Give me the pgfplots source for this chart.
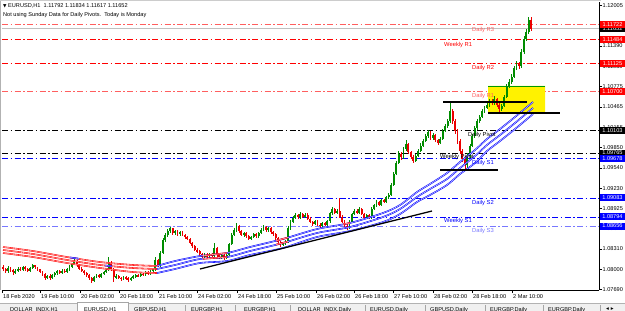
\documentclass[border=0pt]{standalone}
\usepackage{fontspec}
\setmainfont{Liberation Sans}
\newfontfamily\dejavu{DejaVu Sans}
\usepackage{pgfplots}
\usepackage{pgfplotstable}
\pgfplotsset{compat=1.18}

\definecolor{mtred}{RGB}{255,0,0}
\definecolor{mtpink}{RGB}{255,95,95}
\definecolor{mtblue}{RGB}{0,0,255}
\definecolor{mtlblue}{RGB}{120,120,255}
\definecolor{bull}{RGB}{0,140,0}
\definecolor{bear}{RGB}{235,0,0}
\definecolor{tabgrey}{RGB}{240,240,240}
\definecolor{bidgrey}{RGB}{192,192,192}

\newcommand{\fs}{\fontsize{5.6bp}{6.5bp}\selectfont}
\newcommand{\fl}{\fontsize{5.8bp}{7bp}\selectfont}

\pgfplotstableread{
o h l c
1.0803 1.0806 1.0797 1.0800
1.0800 1.0802 1.0794 1.0797
1.0797 1.0805 1.0795 1.0802
1.0802 1.0804 1.0796 1.0799
1.0799 1.0801 1.0792 1.0795
1.0795 1.0800 1.0793 1.0798
1.0798 1.0803 1.0796 1.0801
1.0801 1.0803 1.0797 1.0799
1.0799 1.0805 1.0797 1.0803
1.0803 1.0805 1.0798 1.0800
1.0800 1.0802 1.0795 1.0798
1.0798 1.0804 1.0796 1.0802
1.0802 1.0808 1.0800 1.0806
1.0806 1.0807 1.0801 1.0803
1.0803 1.0804 1.0798 1.0800
1.0800 1.0801 1.0794 1.0796
1.0796 1.0798 1.0790 1.0792
1.0792 1.0794 1.0784 1.0787
1.0787 1.0792 1.0785 1.0790
1.0790 1.0792 1.0784 1.0786
1.0786 1.0793 1.0785 1.0791
1.0791 1.0796 1.0789 1.0794
1.0794 1.0799 1.0792 1.0797
1.0797 1.0799 1.0793 1.0795
1.0795 1.0800 1.0793 1.0798
1.0798 1.0800 1.0794 1.0796
1.0796 1.0802 1.0794 1.0800
1.0800 1.0806 1.0798 1.0804
1.0804 1.0810 1.0802 1.0808
1.0808 1.0815 1.0806 1.0812
1.0812 1.0814 1.0804 1.0806
1.0806 1.0808 1.0799 1.0801
1.0801 1.0803 1.0795 1.0797
1.0797 1.0799 1.0791 1.0794
1.0794 1.0796 1.0789 1.0791
1.0791 1.0793 1.0784 1.0786
1.0786 1.0788 1.0779 1.0782
1.0782 1.0790 1.0780 1.0788
1.0788 1.0793 1.0786 1.0791
1.0791 1.0793 1.0787 1.0789
1.0789 1.0795 1.0787 1.0793
1.0793 1.0798 1.0791 1.0796
1.0796 1.0801 1.0794 1.0799
1.0799 1.0818 1.0797 1.0810
1.0810 1.0812 1.0797 1.0800
1.0800 1.0802 1.0781 1.0788
1.0788 1.0793 1.0785 1.0790
1.0790 1.0792 1.0785 1.0787
1.0787 1.0789 1.0782 1.0785
1.0785 1.0790 1.0783 1.0788
1.0788 1.0790 1.0784 1.0786
1.0786 1.0788 1.0780 1.0784
1.0784 1.0789 1.0782 1.0787
1.0787 1.0791 1.0785 1.0789
1.0789 1.0793 1.0787 1.0791
1.0791 1.0793 1.0788 1.0790
1.0790 1.0795 1.0788 1.0793
1.0793 1.0795 1.0790 1.0792
1.0792 1.0797 1.0790 1.0795
1.0795 1.0797 1.0792 1.0794
1.0794 1.0799 1.0792 1.0797
1.0797 1.0802 1.0795 1.0800
1.0800 1.0818 1.0798 1.0814
1.0814 1.0816 1.0803 1.0806
1.0806 1.0828 1.0804 1.0825
1.0825 1.0848 1.0823 1.0845
1.0845 1.0855 1.0842 1.0852
1.0852 1.0861 1.0849 1.0858
1.0858 1.0864 1.0855 1.0862
1.0862 1.0863 1.0852 1.0855
1.0855 1.0860 1.0852 1.0858
1.0858 1.0860 1.0851 1.0853
1.0853 1.0858 1.0851 1.0856
1.0856 1.0858 1.0850 1.0852
1.0852 1.0854 1.0846 1.0849
1.0849 1.0851 1.0844 1.0846
1.0846 1.0848 1.0838 1.0840
1.0840 1.0842 1.0832 1.0835
1.0835 1.0837 1.0828 1.0830
1.0830 1.0833 1.0825 1.0827
1.0827 1.0829 1.0820 1.0823
1.0823 1.0825 1.0815 1.0818
1.0818 1.0824 1.0816 1.0822
1.0822 1.0824 1.0817 1.0819
1.0819 1.0825 1.0817 1.0823
1.0823 1.0825 1.0818 1.0820
1.0820 1.0840 1.0818 1.0832
1.0832 1.0834 1.0819 1.0822
1.0822 1.0824 1.0815 1.0818
1.0818 1.0823 1.0816 1.0821
1.0821 1.0823 1.0814 1.0817
1.0817 1.0824 1.0815 1.0822
1.0822 1.0840 1.0820 1.0838
1.0838 1.0855 1.0836 1.0852
1.0852 1.0863 1.0850 1.0860
1.0860 1.0870 1.0857 1.0865
1.0865 1.0867 1.0855 1.0858
1.0858 1.0860 1.0850 1.0852
1.0852 1.0857 1.0849 1.0855
1.0855 1.0857 1.0848 1.0850
1.0850 1.0852 1.0844 1.0846
1.0846 1.0851 1.0844 1.0849
1.0849 1.0855 1.0847 1.0853
1.0853 1.0855 1.0848 1.0850
1.0850 1.0857 1.0848 1.0855
1.0855 1.0862 1.0853 1.0860
1.0860 1.0867 1.0858 1.0864
1.0864 1.0866 1.0857 1.0859
1.0859 1.0864 1.0857 1.0862
1.0862 1.0864 1.0854 1.0856
1.0856 1.0858 1.0851 1.0853
1.0853 1.0855 1.0845 1.0847
1.0847 1.0849 1.0839 1.0841
1.0841 1.0843 1.0834 1.0838
1.0838 1.0842 1.0835 1.0840
1.0840 1.0845 1.0837 1.0842
1.0842 1.0865 1.0840 1.0862
1.0862 1.0875 1.0860 1.0872
1.0872 1.0881 1.0870 1.0878
1.0878 1.0885 1.0876 1.0882
1.0882 1.0884 1.0876 1.0879
1.0879 1.0887 1.0877 1.0884
1.0884 1.0886 1.0878 1.0880
1.0880 1.0885 1.0878 1.0883
1.0883 1.0885 1.0875 1.0877
1.0877 1.0879 1.0870 1.0872
1.0872 1.0874 1.0866 1.0869
1.0869 1.0875 1.0867 1.0873
1.0873 1.0875 1.0866 1.0868
1.0868 1.0870 1.0863 1.0866
1.0866 1.0872 1.0864 1.0870
1.0870 1.0872 1.0865 1.0867
1.0867 1.0875 1.0865 1.0873
1.0873 1.0887 1.0871 1.0885
1.0885 1.0894 1.0883 1.0892
1.0892 1.0893 1.0884 1.0886
1.0886 1.0892 1.0884 1.0889
1.0889 1.0908 1.0878 1.0880
1.0880 1.0882 1.0870 1.0872
1.0872 1.0874 1.0864 1.0866
1.0866 1.0868 1.0860 1.0863
1.0863 1.0874 1.0861 1.0872
1.0872 1.0886 1.0870 1.0884
1.0884 1.0891 1.0882 1.0889
1.0889 1.0891 1.0884 1.0886
1.0886 1.0894 1.0884 1.0891
1.0891 1.0893 1.0882 1.0884
1.0884 1.0886 1.0876 1.0878
1.0878 1.0884 1.0876 1.0882
1.0882 1.0884 1.0877 1.0879
1.0879 1.0894 1.0877 1.0892
1.0892 1.0899 1.0890 1.0897
1.0897 1.0905 1.0895 1.0902
1.0902 1.0904 1.0896 1.0898
1.0898 1.0907 1.0896 1.0905
1.0905 1.0907 1.0900 1.0902
1.0902 1.0911 1.0900 1.0909
1.0909 1.0916 1.0907 1.0913
1.0913 1.0931 1.0911 1.0928
1.0928 1.0948 1.0926 1.0945
1.0945 1.0965 1.0943 1.0962
1.0962 1.0979 1.0960 1.0975
1.0975 1.0978 1.0966 1.0970
1.0970 1.0985 1.0968 1.0982
1.0982 1.0996 1.0979 1.0990
1.0990 1.0992 1.0975 1.0978
1.0978 1.0980 1.0967 1.0970
1.0970 1.0973 1.0962 1.0965
1.0965 1.0975 1.0963 1.0972
1.0972 1.0983 1.0970 1.0980
1.0980 1.0991 1.0978 1.0988
1.0988 1.0998 1.0986 1.0995
1.0995 1.1006 1.0993 1.1003
1.1003 1.1012 1.1000 1.1008
1.1008 1.1010 1.0997 1.1000
1.1000 1.1007 1.0997 1.1004
1.1004 1.1006 1.0993 1.0996
1.0996 1.0998 1.0989 1.0992
1.0992 1.1001 1.0990 1.0998
1.0998 1.1013 1.0996 1.1010
1.1010 1.1021 1.1008 1.1018
1.1018 1.1029 1.1015 1.1025
1.1025 1.1054 1.1022 1.1040
1.1040 1.1044 1.1020 1.1025
1.1025 1.1028 1.1006 1.1010
1.1010 1.1013 1.0990 1.0995
1.0995 1.0998 1.0975 1.0980
1.0980 1.0983 1.0963 1.0968
1.0968 1.0972 1.0951 1.0958
1.0958 1.0976 1.0954 1.0972
1.0972 1.0991 1.0969 1.0988
1.0988 1.1006 1.0985 1.1002
1.1002 1.1018 1.0999 1.1015
1.1015 1.1028 1.1012 1.1025
1.1025 1.1035 1.1022 1.1032
1.1032 1.1043 1.1030 1.1040
1.1040 1.1048 1.1037 1.1045
1.1045 1.1056 1.1043 1.1050
1.1050 1.1059 1.1047 1.1055
1.1055 1.1058 1.1049 1.1052
1.1052 1.1063 1.1050 1.1058
1.1058 1.1060 1.1047 1.1050
1.1050 1.1052 1.1039 1.1044
1.1044 1.1051 1.1041 1.1048
1.1048 1.1065 1.1046 1.1062
1.1062 1.1081 1.1060 1.1078
1.1078 1.1089 1.1075 1.1085
1.1085 1.1096 1.1082 1.1092
1.1092 1.1109 1.1090 1.1105
1.1105 1.1117 1.1102 1.1112
1.1112 1.1115 1.1104 1.1108
1.1108 1.1134 1.1106 1.1130
1.1130 1.1155 1.1127 1.1150
1.1150 1.1165 1.1146 1.1160
1.1160 1.1183 1.1157 1.1179
1.11792 1.11834 1.11617 1.11652
}\candles

\tikzset{
  band/.style={#1, double=white, double distance=0.35bp, line width=0.6bp},
  pbox/.style={anchor=west, fill=#1, text=white, font=\fs, inner sep=0pt,
    minimum width=24.5bp, minimum height=7bp},
  piv/.style={#1, line width=0.8bp, dash pattern=on 6bp off 2.5bp on 1.5bp off 2.5bp},
}

\begin{document}
\begin{tikzpicture}
\path[use as bounding box] (0,0) rectangle (625bp,311bp);
\fill[white] (0,0) rectangle (625bp,311bp);

% ---- tab bar ----
\fill[tabgrey] (0,0) rectangle (625bp,7.5bp);
\draw[gray!60, line width=0.5bp] (0,7.5bp) -- (625bp,7.5bp);
\fill[white] (77bp,0) rectangle (128bp,8.5bp);
\draw[gray!70, line width=0.5bp] (77bp,0) -- (77bp,8.5bp) -- (128bp,8.5bp) -- (128bp,0);
\foreach \s in {185,235,290,365,425,485,543,600}{
  \draw[gray!70, line width=0.5bp] (\s bp,0) -- (\s bp,6bp);}
\foreach \xx/\tt in {10/{DOLLAR\_INDX,H1},84/{EURUSD,H1},134/{GBPUSD,H1},191/{EURGBP,H1},244/{EURGBP,H1},
  298/{DOLLAR\_INDX,Daily},370/{EURUSD,Daily},430/{GBPUSD,Daily},490/{EURGBP,Daily},548/{EURGBP,Daily}}{
  \node[anchor=north west, inner sep=0pt, font=\fs] at (\xx bp,3.4bp) {\tt};}
\node[anchor=north west, inner sep=0pt, font=\fs] at (606bp,3.4bp) {{\dejavu ◂ ▸}};

\begin{axis}[
  at={(2bp,21bp)}, anchor=south west,
  scale only axis, width=597bp, height=288bp,
  xmin=2, xmax=599, ymin=1.07684, ymax=1.12059,
  axis x line*=bottom, axis y line*=right,
  axis line style={black, line width=0.6bp},
  tick align=outside, major tick length=3bp,
  tick style={black, line width=0.5bp},
  /pgf/number format/assume math mode=true,
  xtick={2,40,80,119,158,197,237,276,316,354,393,433,472,512},
  xticklabels={18 Feb 2020,19 Feb 10:00,20 Feb 02:00,20 Feb 18:00,21 Feb 10:00,24 Feb 02:00,24 Feb 18:00,25 Feb 10:00,26 Feb 02:00,26 Feb 18:00,27 Feb 10:00,28 Feb 02:00,28 Feb 18:00,2 Mar 10:00},
  xticklabel style={font=\fs, anchor=west, inner sep=0.5bp, yshift=-3.5bp, xshift=0.5bp},
  ytick={1.07690,1.08000,1.08310,1.08620,1.08925,1.09230,1.09540,1.09850,1.10155,1.10465,1.10775,1.11080,1.11390,1.11695,1.12005},
  yticklabels={1.07690,1.08000,1.08310,1.08620,1.08925,1.09230,1.09540,1.09850,1.10155,1.10465,1.10775,1.11080,1.11390,1.11695,1.12005},
  yticklabel style={font=\fs, anchor=west, inner sep=0.5bp},
]
% pivot lines
\addplot[bidgrey, line width=0.6bp] coordinates {(2,1.11652) (599,1.11652)};
\addplot[piv=mtpink] coordinates {(2,1.11722) (599,1.11722)};
\addplot[piv=mtred] coordinates {(2,1.11484) (599,1.11484)};
\addplot[piv=mtred] coordinates {(2,1.11125) (599,1.11125)};
\addplot[piv=mtpink] coordinates {(2,1.10700) (599,1.10700)};
\addplot[piv=black] coordinates {(2,1.10103) (599,1.10103)};
\addplot[piv=black] coordinates {(2,1.09765) (599,1.09765)};
\addplot[piv=mtblue] coordinates {(2,1.09678) (599,1.09678)};
\addplot[piv=mtblue] coordinates {(2,1.09083) (599,1.09083)};
\addplot[piv=mtblue] coordinates {(2,1.08794) (599,1.08794)};
\addplot[piv=mtlblue] coordinates {(2,1.08656) (599,1.08656)};

% yellow rectangle
\addplot[fill=yellow, draw=none] coordinates {(488,1.10373) (545,1.10373) (545,1.10783) (488,1.10783) (488,1.10373)};
\addplot[green!60!black, line width=0.6bp] coordinates {(488,1.10783) (545,1.10783)};

% candles: wicks
\addplot[draw=none, mark=none, forget plot,
  restrict expr to domain={\thisrow{c}-\thisrow{o}}{0:1},
  error bars/.cd, y dir=both, y explicit, error mark=none,
  error bar style={draw=bull, line width=0.6bp}]
  table[x expr={3.16+2.456*\coordindex}, y expr={(\thisrow{h}+\thisrow{l})/2}, y error expr={(\thisrow{h}-\thisrow{l})/2}] {\candles};
\addplot[draw=none, mark=none, forget plot,
  restrict expr to domain={\thisrow{c}-\thisrow{o}}{-1:-0.00001},
  error bars/.cd, y dir=both, y explicit, error mark=none,
  error bar style={draw=bear, line width=0.6bp}]
  table[x expr={3.16+2.456*\coordindex}, y expr={(\thisrow{h}+\thisrow{l})/2}, y error expr={(\thisrow{h}-\thisrow{l})/2}] {\candles};
% candles: bodies
\addplot[draw=none, mark=none, forget plot,
  restrict expr to domain={\thisrow{c}-\thisrow{o}}{0:1},
  error bars/.cd, y dir=both, y explicit, error mark=none,
  error bar style={draw=bull, line width=1.9bp}]
  table[x expr={3.16+2.456*\coordindex}, y expr={(\thisrow{o}+\thisrow{c})/2}, y error expr={(\thisrow{c}-\thisrow{o})/2}] {\candles};
\addplot[draw=none, mark=none, forget plot,
  restrict expr to domain={\thisrow{c}-\thisrow{o}}{-1:-0.00001},
  error bars/.cd, y dir=both, y explicit, error mark=none,
  error bar style={draw=bear, line width=1.9bp}]
  table[x expr={3.16+2.456*\coordindex}, y expr={(\thisrow{o}+\thisrow{c})/2}, y error expr={(\thisrow{o}-\thisrow{c})/2}] {\candles};

% MA band (red part)
\addplot[band=mtred, smooth] coordinates {(3,1.08337) (33,1.08276) (67,1.08185) (100,1.08109) (133,1.08064) (157,1.08049)};
\addplot[band=mtred, smooth] coordinates {(3,1.08292) (33,1.08231) (67,1.08140) (100,1.08064) (133,1.08018) (157,1.08003)};
\addplot[band=mtred, smooth] coordinates {(3,1.08246) (33,1.08185) (67,1.08094) (100,1.08018) (133,1.07957) (157,1.07942)};
% MA band (blue part)
\addplot[band=mtblue, smooth] coordinates {(157,1.08049) (175,1.08124) (200,1.08200) (227,1.08246) (250,1.08337) (283,1.08459) (317,1.08610) (350,1.08702) (383,1.08854) (400,1.08975) (417,1.09172) (430,1.09294) (447,1.09461) (460,1.09628) (475,1.09811) (487,1.09978) (500,1.10129) (515,1.10312) (533,1.10540)};
\addplot[band=mtblue, smooth] coordinates {(157,1.08003) (175,1.08064) (200,1.08155) (227,1.08185) (250,1.08276) (283,1.08398) (317,1.08550) (350,1.08641) (383,1.08793) (400,1.08914) (417,1.09097) (430,1.09218) (447,1.09370) (460,1.09537) (475,1.09719) (487,1.09887) (500,1.10038) (515,1.10221) (533,1.10449)};
\addplot[band=mtblue, smooth] coordinates {(157,1.07942) (175,1.08003) (200,1.08094) (227,1.08124) (250,1.08216) (283,1.08322) (317,1.08489) (350,1.08580) (383,1.08717) (400,1.08838) (417,1.09021) (430,1.09127) (447,1.09279) (460,1.09446) (475,1.09613) (487,1.09795) (500,1.09947) (515,1.10129) (533,1.10357)};
% red pieces where price dipped into the band
\addplot[band=mtred] coordinates {(203,1.08205) (227,1.08246)};
\addplot[band=mtred] coordinates {(203,1.08158) (227,1.08185)};
\addplot[band=mtred] coordinates {(276,1.08433) (288,1.08481)};
\addplot[band=mtred] coordinates {(276,1.08373) (288,1.08420)};
\addplot[band=mtred] coordinates {(343,1.08683) (350,1.08702)};
% blue pieces where price poked above the red band
\addplot[band=mtblue] coordinates {(70,1.08178) (79,1.08160)};
\addplot[band=mtblue] coordinates {(105,1.08056) (112,1.08045)};

% trend lines
\addplot[black, line width=1.3bp] coordinates {(200,1.08003) (432,1.08884)};
\addplot[black, line width=1.3bp] coordinates {(443,1.10540) (527,1.10540)};
\addplot[black, line width=1.3bp] coordinates {(488,1.10373) (560,1.10373)};
\addplot[black, line width=1.3bp] coordinates {(440,1.09507) (498,1.09507)};

% pivot labels
\node[anchor=west, inner sep=0pt, font=\fl, text=mtpink] at (axis cs:472,1.11633) {Daily R3};
\node[anchor=west, inner sep=0pt, font=\fl, text=mtred] at (axis cs:444,1.11405) {Weekly R1};
\node[anchor=west, inner sep=0pt, font=\fl, text=mtred] at (axis cs:472,1.11056) {Daily R2};
\node[anchor=west, inner sep=0pt, font=\fl, text=mtpink] at (axis cs:472,1.10631) {Daily R1};
\node[anchor=west, inner sep=0pt, font=\fl, text=black] at (axis cs:468,1.10038) {Daily Pivot};
\node[anchor=west, inner sep=0pt, font=\fl, text=black] at (axis cs:440,1.09704) {Weekly Pivot};
\node[anchor=west, inner sep=0pt, font=\fl, text=mtblue] at (axis cs:472,1.09613) {Daily S1};
\node[anchor=west, inner sep=0pt, font=\fl, text=mtblue] at (axis cs:472,1.09006) {Daily S2};
\node[anchor=west, inner sep=0pt, font=\fl, text=mtblue] at (axis cs:444,1.08732) {Weekly S1};
\node[anchor=west, inner sep=0pt, font=\fl, text=mtlblue] at (axis cs:472,1.08580) {Daily S3};

% anchors for price boxes
\coordinate (q1) at (axis cs:599,1.11722);
\coordinate (q2) at (axis cs:599,1.11652);
\coordinate (q3) at (axis cs:599,1.11484);
\coordinate (q4) at (axis cs:599,1.11125);
\coordinate (q5) at (axis cs:599,1.10700);
\coordinate (q6) at (axis cs:599,1.10103);
\coordinate (q7) at (axis cs:599,1.09765);
\coordinate (q8) at (axis cs:599,1.09678);
\coordinate (q9) at (axis cs:599,1.09083);
\coordinate (q10) at (axis cs:599,1.08794);
\coordinate (q11) at (axis cs:599,1.08656);
\end{axis}

% price boxes on the scale
\node[pbox=black] at ([xshift=1bp]q2) {1.11652};
\node[pbox=mtred] at ([xshift=1bp]q1) {1.11722};
\node[pbox=mtred] at ([xshift=1bp]q3) {1.11484};
\node[pbox=mtred] at ([xshift=1bp]q4) {1.11125};
\node[pbox=mtred] at ([xshift=1bp]q5) {1.10700};
\node[pbox=black] at ([xshift=1bp]q6) {1.10103};
\node[pbox=black] at ([xshift=1bp]q7) {1.09765};
\node[pbox=mtblue] at ([xshift=1bp]q8) {1.09678};
\node[pbox=mtblue] at ([xshift=1bp]q9) {1.09083};
\node[pbox=mtblue] at ([xshift=1bp]q10) {1.08794};
\node[pbox=mtblue] at ([xshift=1bp]q11) {1.08656};

% window borders
\draw[gray!60, line width=0.8bp] (0.4bp,21bp) -- (0.4bp,311bp);
\draw[gray!40, line width=0.6bp] (0,310.7bp) -- (601bp,310.7bp);

% top-left info text
\node[anchor=west, inner sep=0pt, font=\fs] at (3bp,305bp) {{\dejavu\fontsize{4.5bp}{5bp}\selectfont ▼}\ EURUSD,H1\ \ 1.11792 1.11834 1.11617 1.11652};
\node[anchor=west, inner sep=0pt, font=\fs] at (3bp,296bp) {Not using Sunday Data for Daily Pivots.\ \ Today is Monday};
\end{tikzpicture}
\end{document}
